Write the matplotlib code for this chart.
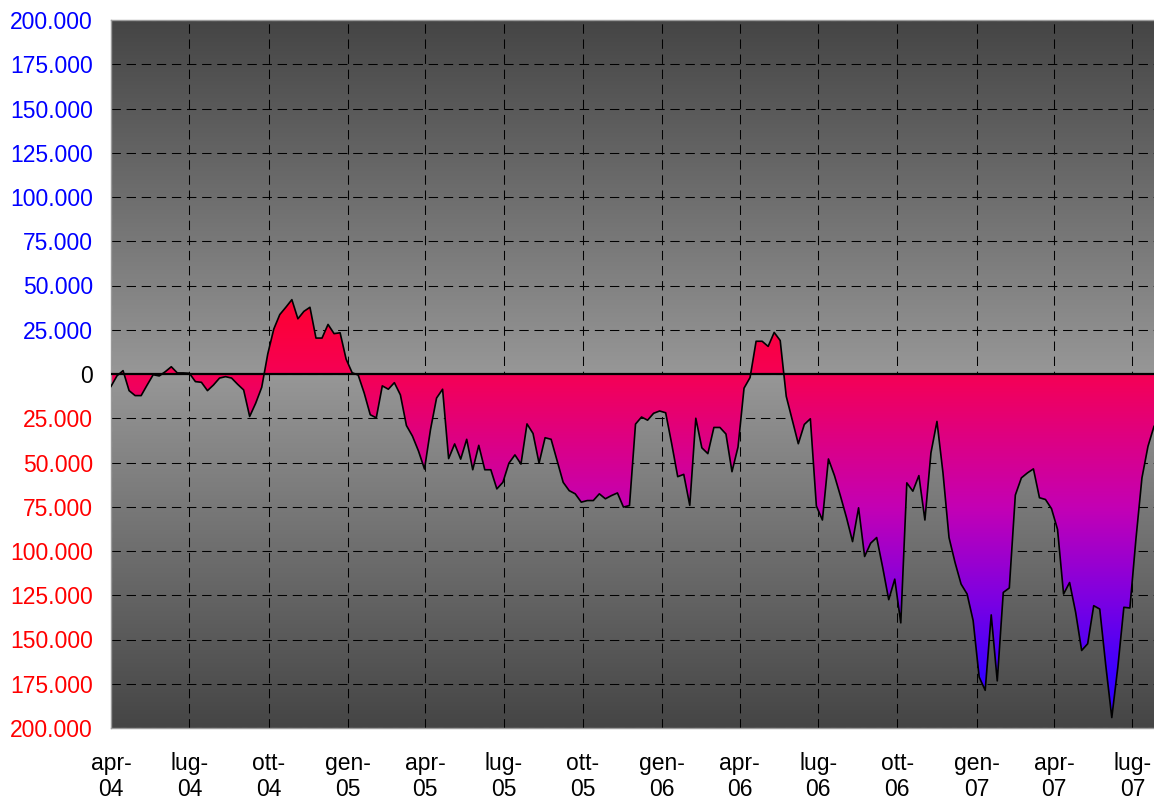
import datetime as dt
import numpy as np
import matplotlib
matplotlib.use("Agg")
import matplotlib.pyplot as plt
import matplotlib.dates as mdates
from matplotlib.colors import LinearSegmentedColormap
from matplotlib.path import Path

plt.rcParams['font.family'] = ['Liberation Sans', 'DejaVu Sans']

### data: weekly values from the first week of april 2004 ###
start = dt.date(2004, 4, 1)
values = [
    -7000, -1000, 1900, -9400, -12200, -12200, -6200, -400, -1100, 1300,
    4100, 600, 600, 400, -4300, -4700, -9400, -6200, -2300, -1500,
    -2300, -5800, -9000, -24000, -16500, -7500, 11300, 25400, 33600, 37700,
    42000, 31200, 35400, 37700, 20300, 20300, 28000, 22800, 23300, 8400,
    700, -600, -10800, -23000, -24800, -6700, -8600, -4900, -11800, -29100,
    -35100, -43500, -53700, -31300, -13600, -8600, -47800, -39500, -48100, -36900,
    -54100, -40300, -54100, -54100, -64900, -61200, -50400, -45700, -50900, -28200,
    -33600, -50400, -36000, -36900, -49100, -61200, -65900, -67700, -72400, -71500,
    -71500, -67700, -70500, -68700, -67200, -75200, -74300, -28300, -24300, -26100,
    -22200, -20900, -21900, -39400, -58000, -56700, -74200, -25000, -41700, -45000,
    -30200, -30200, -33900, -55200, -41300, -8000, -2000, 18500, 18500, 15600,
    23500, 18900, -12600, -26000, -39400, -28500, -25300, -74600, -82500, -48000,
    -57400, -69000, -81200, -94700, -75600, -103100, -95600, -92400, -109300, -127500,
    -115900, -140600, -61500, -66200, -57400, -82500, -44600, -26800, -55900, -92400,
    -106500, -118700, -124300, -139300, -171200, -178700, -136100, -173400, -123400, -120900,
    -68400, -58700, -55900, -53600, -69900, -70900, -76100, -87800, -124300, -117800,
    -134600, -156200, -152400, -130900, -132800, -164600, -194100, -165600, -131800, -132200,
    -93400, -58700, -40900, -29600,
]
dates = [start + dt.timedelta(weeks=i) for i in range(len(values))]

tick_dates = [dt.date(y, m, 1) for y, m in [
    (2004, 4), (2004, 7), (2004, 10), (2005, 1), (2005, 4), (2005, 7), (2005, 10),
    (2006, 1), (2006, 4), (2006, 7), (2006, 10), (2007, 1), (2007, 4), (2007, 7)]]
tick_labels = ["apr-\n04", "lug-\n04", "ott-\n04", "gen-\n05", "apr-\n05", "lug-\n05", "ott-\n05",
               "gen-\n06", "apr-\n06", "lug-\n06", "ott-\n06", "gen-\n07", "apr-\n07", "lug-\n07"]
yticks = list(range(-200000, 200001, 25000))

### colours ###
poscolour = "#0000FF"
negcolour = "#FF0000"
# fill gradient stops (value, colour)
fillstops = [(-194100, "#3000FF"), (-171000, "#3A00FF"), (-125000, "#8000E0"),
             (-75000, "#C400B4"), (0, "#F50055"), (42000, "#FF0030")]

fig = plt.figure(figsize=(11.54, 8.0), dpi=100)
ax = fig.add_axes([111 / 1154, 72 / 800, 1 - 111 / 1154, 708 / 800])

x = mdates.date2num(dates)
ymin, ymax = -200000, 200000

# background: dark at top and bottom, light in the middle
bg = np.abs(np.linspace(-1, 1, 512)).reshape(-1, 1)
bg_cmap = LinearSegmentedColormap.from_list("bg", ["#979797", "#454545"])
ax.imshow(bg, cmap=bg_cmap, extent=[x[0], x[-1], ymin, ymax], aspect="auto",
          origin="lower", zorder=0, interpolation="bilinear")

# gradient area
poly = ax.fill_between(x, values, 0, facecolor="none", edgecolor="none")
path = Path.make_compound_path(*poly.get_paths())
lo, hi = min(values), max(values)
fill_cmap = LinearSegmentedColormap.from_list(
    "fill", [((v - lo) / (hi - lo), c) for v, c in fillstops])
grad = np.linspace(0, 1, 256).reshape(-1, 1)
img = ax.imshow(grad, cmap=fill_cmap, extent=[x[0], x[-1], lo, hi], aspect="auto",
                origin="lower", zorder=2, interpolation="bilinear")
img.set_clip_path(path, transform=ax.transData)

ax.plot(x, values, color="black", lw=1.2, zorder=3)
ax.axhline(0, color="black", lw=1.6, zorder=4)

ax.set_xlim(x[0], x[-1])
ax.set_ylim(ymin, ymax)

ax.set_xticks(mdates.date2num(tick_dates), labels=tick_labels)
ax.set_yticks(yticks, labels=[f"{abs(v):,}".replace(",", ".") for v in yticks])
for lab, v in zip(ax.get_yticklabels(), yticks):
    lab.set_color(poscolour if v > 0 else (negcolour if v < 0 else "black"))
for lab in ax.get_xticklabels():
    lab.set_linespacing(1.2)

ax.tick_params(axis="both", length=0, labelsize=16.5)
ax.tick_params(axis="y", pad=13)
ax.tick_params(axis="x", pad=17)

ax.set_axisbelow(True)
ax.grid(True, color="black", linestyle=(0, (9, 5.5)), linewidth=0.75)

for side in ["left", "top", "bottom"]:
    ax.spines[side].set_color("#9c9c9c")
    ax.spines[side].set_linewidth(1.0)
ax.spines["right"].set_visible(False)

fig.savefig("out.png", dpi=100)
